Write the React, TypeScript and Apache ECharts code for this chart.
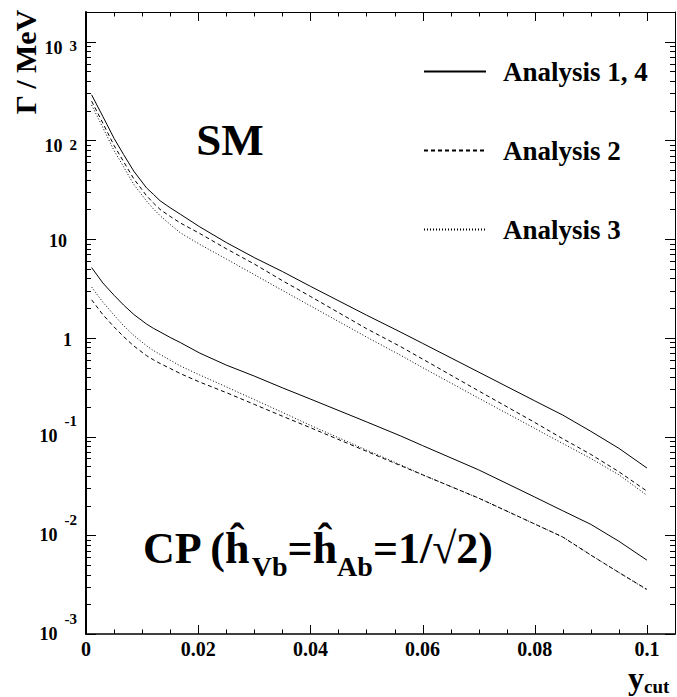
import React, { useEffect, useRef } from 'react';
import * as echarts from 'echarts';

// y_cut sample points
const ycutValues = [0.001, 0.003, 0.005, 0.0067, 0.0085, 0.0108, 0.012, 0.0132, 0.015, 0.0168, 0.0203, 0.025, 0.03, 0.035, 0.04, 0.05, 0.056, 0.06, 0.07, 0.08, 0.085, 0.09, 0.095, 0.1];

// SM (upper group), Gamma in MeV
const smAnalysis14 = [290, 175, 105, 72, 49, 33, 28.5, 24.5, 20.8, 17.9, 13.3, 9.25, 6.5, 4.7, 3.33, 1.7, 1.15, 0.88, 0.45, 0.23, 0.165, 0.113, 0.076, 0.048];
const smAnalysis2 = [250, 150, 89, 61, 41, 27.5, 23.3, 20.0, 17.0, 14.6, 11.4, 8.0, 5.6, 3.8, 2.63, 1.24, 0.82, 0.61, 0.29, 0.139, 0.095, 0.066, 0.044, 0.028];
const smAnalysis3 = [228, 135, 79, 54, 36, 24.3, 20.3, 17.3, 14.1, 11.6, 8.84, 6.3, 4.37, 3.03, 2.11, 1.02, 0.67, 0.5, 0.245, 0.121, 0.085, 0.06, 0.041, 0.0254];

// CP (lower group)
const cpAnalysis14 = [5.15, 3.6, 2.7, 2.15, 1.73, 1.38, 1.25, 1.15, 1.01, 0.897, 0.7, 0.53, 0.41, 0.312, 0.24, 0.141, 0.102, 0.081, 0.046, 0.0244, 0.0177, 0.0129, 0.0087, 0.0056];
const cpAnalysis2 = [2.43, 1.72, 1.29, 1.03, 0.83, 0.66, 0.6, 0.55, 0.49, 0.435, 0.356, 0.279, 0.212, 0.161, 0.123, 0.071, 0.051, 0.041, 0.0238, 0.013, 0.0096, 0.0063, 0.0042, 0.00283];
const cpAnalysis3 = [3.27, 2.3, 1.7, 1.33, 1.06, 0.83, 0.745, 0.68, 0.595, 0.52, 0.42, 0.319, 0.237, 0.176, 0.13, 0.073, 0.052, 0.041, 0.0238, 0.013, 0.0096, 0.0063, 0.0042, 0.0028];

// axes
const xMajorTicks = [0, 0.02, 0.04, 0.06, 0.08, 0.1];
const xMinorTicks = [0.005, 0.01, 0.015, 0.025, 0.03, 0.035, 0.045, 0.05, 0.055, 0.065, 0.07, 0.075, 0.085, 0.09, 0.095];
const xMin = 0;
const xMax = 0.105;
const yMinValue = 0.001;
const yMaxValue = 2000;
const yDecadeExponents = [-3, -2, -1, 0, 1, 2, 3];
const yPositivePowerLabels = [2, 3];
const yNegativePowerLabels = [-3, -2, -1];
const yPlainLabelExponents = [0, 1];
const yMinorMultipliers = [2, 3, 4, 5, 6, 7, 8, 9];

const legendNames = ['Analysis 1, 4', 'Analysis 2', 'Analysis 3'];

const FONT = "'Liberation Serif', 'Times New Roman', Times, serif";

export default function App() {
  const ref = useRef<HTMLDivElement>(null);

  useEffect(() => {
    if (!ref.current) return;
    const chart = echarts.init(ref.current, undefined, { renderer: 'svg' });

    const lg = (v: number) => Math.log10(v);
    const yMin = lg(yMinValue);
    const yMax = lg(yMaxValue);

    // tick items: [x, y, length]
    const yTickItems: number[][] = [];
    yDecadeExponents.forEach((e) => {
      yTickItems.push([xMin, e, 10]);
      yMinorMultipliers.forEach((m) => {
        const v = lg(m) + e;
        if (v < yMax - 1e-6) yTickItems.push([xMin, v, 5]);
      });
    });
    const xTickItems: number[][] = [
      ...xMajorTicks.map((v) => [v, yMin, 9]),
      ...xMinorTicks.map((v) => [v, yMin, 4.5]),
    ];

    const dash = [4, 3];
    const dot = [1, 2];
    const mk = (name: string, ys: number[], type: any) => ({
      type: 'line',
      name,
      data: ycutValues.map((x, i) => [x, lg(ys[i])]),
      symbol: 'none',
      showSymbol: false,
      silent: true,
      xAxisIndex: 0,
      yAxisIndex: 0,
      itemStyle: { color: '#000' },
      lineStyle: { color: '#000', width: 1, type },
      z: 3,
    });

    const crisp = (p: number) => Math.round(p) + 0.5;
    const tickSeries = (items: number[][], kind: 'x' | 'y') => ({
      type: 'custom',
      silent: true,
      clip: false,
      xAxisIndex: 0,
      yAxisIndex: 0,
      z: 5,
      data: items,
      renderItem: (_params: any, api: any) => {
        const len = api.value(2);
        const sa = { stroke: '#000', lineWidth: 1 };
        const sb = { stroke: '#000', lineWidth: 1 };
        if (kind === 'y') {
          const v = api.value(1);
          const a = api.coord([xMin, v]);
          const b = api.coord([xMax, v]);
          const ya = crisp(a[1]);
          const yb = crisp(b[1]);
          return {
            type: 'group',
            children: [
              { type: 'line', shape: { x1: a[0], y1: ya, x2: a[0] + len, y2: ya }, style: sa },
              { type: 'line', shape: { x1: b[0], y1: yb, x2: b[0] - len, y2: yb }, style: sb },
            ],
          };
        }
        const v = api.value(0);
        const a = api.coord([v, yMin]);
        const b = api.coord([v, yMax]);
        const xa = crisp(a[0]);
        return {
          type: 'group',
          children: [
            { type: 'line', shape: { x1: xa, y1: a[1], x2: xa, y2: a[1] - len }, style: sa },
            { type: 'line', shape: { x1: xa, y1: b[1], x2: xa, y2: b[1] + len }, style: sb },
          ],
        };
      },
    });

    const baseX = {
      type: 'value',
      min: xMin,
      max: xMax,
      splitLine: { show: false },
      axisTick: { show: false },
    };
    const baseY = {
      type: 'value',
      min: yMin,
      max: yMax,
      splitLine: { show: false },
      axisTick: { show: false },
    };
    const lineS = (w: number) => ({ show: true, onZero: false, lineStyle: { color: '#000', width: w } });
    const noLine = { show: false, onZero: false };
    const powRich = {
      b: { fontFamily: FONT, fontWeight: 'bold', fontSize: 18, lineHeight: 18, verticalAlign: 'bottom', color: '#000' },
      e: { fontFamily: FONT, fontWeight: 'bold', fontSize: 15, lineHeight: 15, verticalAlign: 'top', color: '#000', padding: [0, 0, 0, 7] },
    };

    const option: any = {
      animation: false,
      backgroundColor: '#fff',
      grid: { left: 86, top: 12, width: 589, height: 622, containLabel: false },
      xAxis: [
        {
          ...baseX,
          position: 'bottom',
          axisLine: lineS(1.5),
          axisLabel: {
            show: true,
            customValues: xMajorTicks,
            margin: 8,
            lineHeight: 14,
            fontFamily: FONT,
            fontWeight: 'bold',
            fontSize: 20,
            color: '#000',
          },
        },
        {
          ...baseX,
          position: 'top',
          axisLine: lineS(1),
          axisLabel: { show: false },
        },
      ],
      yAxis: [
        {
          ...baseY,
          position: 'left',
          axisLine: lineS(2),
          axisLabel: {
            show: true,
            customValues: yPositivePowerLabels,
            margin: 9,
            padding: [13, 0, 0, 0],
            formatter: (v: number) => `{b|10}{e|${Math.round(v)}}\n{f| }`,
            rich: { ...powRich, f: { fontSize: 1, lineHeight: 1 } },
          },
        },
        {
          ...baseY,
          position: 'left',
          axisLine: noLine,
          axisLabel: {
            show: true,
            customValues: yNegativePowerLabels,
            margin: 9,
            padding: [0, 0, 14, 0],
            formatter: (v: number) => `{b|10}{e|${Math.round(v)}}`,
            rich: {
              b: { ...powRich.b, lineHeight: 31.5 },
              e: powRich.e,
            },
          },
        },
        {
          ...baseY,
          position: 'left',
          axisLine: noLine,
          axisLabel: {
            show: true,
            customValues: yPlainLabelExponents,
            margin: 14,
            padding: [4, 0, 0, 0],
            formatter: (v: number) => (Math.round(v) === 0 ? '{p|1}' : '{q|10}'),
            rich: {
              p: { fontFamily: FONT, fontWeight: 'bold', fontSize: 18, color: '#000' },
              q: { fontFamily: FONT, fontWeight: 'bold', fontSize: 18, color: '#000', padding: [0, 5, 0, 0] },
            },
          },
        },
        {
          ...baseY,
          position: 'right',
          axisLine: lineS(1),
          axisLabel: { show: false },
        },
      ],
      legend: {
        data: legendNames,
        orient: 'vertical',
        left: 423,
        top: 58,
        padding: 0,
        itemWidth: 62,
        itemHeight: 14,
        itemGap: 52,
        selectedMode: false,
        itemStyle: { opacity: 0, color: 'transparent', borderWidth: 0 },
        textStyle: {
          fontFamily: FONT,
          fontWeight: 'bold',
          fontSize: 27,
          lineHeight: 25,
          color: '#000',
          padding: [0, 0, 0, 12],
        },
      },
      graphic: [
        {
          type: 'text',
          x: 25,
          y: 62,
          rotation: Math.PI / 2,
          silent: true,
          style: {
            text: 'Γ / MeV',
            fontFamily: FONT,
            fontWeight: 'bold',
            fontSize: 30,
            fill: '#000',
            align: 'center',
            verticalAlign: 'middle',
          },
        },
        {
          type: 'text',
          x: 230,
          y: 140,
          silent: true,
          style: {
            text: 'SM',
            fontFamily: FONT,
            fontWeight: 'bold',
            fontSize: 45,
            fill: '#000',
            align: 'center',
            verticalAlign: 'middle',
          },
        },
        {
          type: 'text',
          x: 143,
          y: 526,
          silent: true,
          style: {
            text: '{a|CP (ĥ}{s|Vb}{a|=ĥ}{s|Ab}{a|=1/√2)}',
            align: 'left',
            verticalAlign: 'top',
            rich: {
              a: { fontFamily: FONT, fontWeight: 'bold', fontSize: 44, lineHeight: 44, verticalAlign: 'top', fill: '#000', color: '#000' },
              s: { fontFamily: FONT, fontWeight: 'bold', fontSize: 28, lineHeight: 80, verticalAlign: 'middle', fill: '#000', color: '#000' },
            },
          },
        },
        {
          type: 'text',
          x: 628,
          y: 662,
          silent: true,
          style: {
            text: '{y|y}{c|cut}',
            align: 'left',
            verticalAlign: 'top',
            rich: {
              y: { fontFamily: FONT, fontWeight: 'bold', fontSize: 32, lineHeight: 32, verticalAlign: 'top', fill: '#000', color: '#000' },
              c: { fontFamily: FONT, fontWeight: 'bold', fontSize: 19, lineHeight: 34, verticalAlign: 'bottom', fill: '#000', color: '#000' },
            },
          },
        },
      ],
      series: [
        mk(legendNames[0], smAnalysis14, 'solid'),
        mk(legendNames[1], smAnalysis2, dash),
        mk(legendNames[2], smAnalysis3, dot),
        mk(legendNames[0], cpAnalysis14, 'solid'),
        mk(legendNames[1], cpAnalysis2, dash),
        mk(legendNames[2], cpAnalysis3, dot),
        tickSeries(yTickItems, 'y'),
        tickSeries(xTickItems, 'x'),
      ],
    };

    chart.setOption(option);
    return () => {
      chart.dispose();
    };
  }, []);

  return (
    <div
      ref={ref}
      style={{ position: 'absolute', left: 0, top: 0, width: 677, height: 697, background: '#fff' }}
    />
  );
}
